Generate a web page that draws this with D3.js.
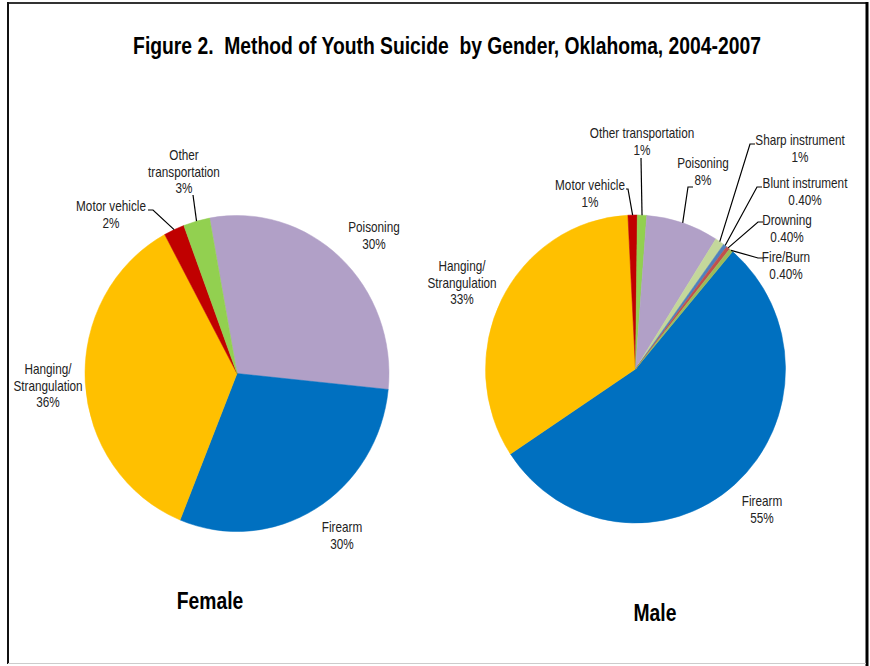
<!DOCTYPE html>
<html><head><meta charset="utf-8">
<script src="https://cdn.jsdelivr.net/npm/d3@7"></script>
<style>
body{margin:0;background:#fff;}
svg{display:block;}
</style></head>
<body>
<svg id="c" width="870" height="666"></svg>
<script>
// ---- data ----
const femaleCategories = ["Poisoning","Firearm","Hanging/Strangulation","Motor vehicle","Other transportation"];
const femaleValues     = [29.5, 29.5, 36, 2.2, 2.8];
const femaleLabels     = ["30%","30%","36%","2%","3%"];

const maleCategories = ["Firearm","Hanging/Strangulation","Motor vehicle","Other transportation","Poisoning","Sharp instrument","Blunt instrument","Drowning","Fire/Burn"];
const maleValues     = [54.5, 33.5, 1, 1, 7.8, 1, 0.4, 0.4, 0.4];
const maleLabels     = ["55%","33%","1%","1%","8%","1%","0.40%","0.40%","0.40%"];

const colorMap = {
  "Poisoning":"#B1A0C7","Firearm":"#0070C0","Hanging/Strangulation":"#FFC000",
  "Motor vehicle":"#C00000","Other transportation":"#92D050","Sharp instrument":"#C4D79B",
  "Blunt instrument":"#4F81BD","Drowning":"#C0504D","Fire/Burn":"#9BBB59"
};

// ---- layout ----
const FONT = "'Liberation Sans Narrow','Arial Narrow','Liberation Sans',Arial,sans-serif";
const SX = 0.84; // emulate narrow font
const svg = d3.select("#c");

function narrowText(parent, x, y, txt, size, bold, fill){
  return parent.append("text")
    .attr("transform",`translate(${x},${y}) scale(${SX},1)`)
    .attr("text-anchor","middle").attr("font-family",FONT)
    .attr("font-size",size).attr("font-weight",bold?"bold":"normal")
    .attr("fill",fill||"#000").attr("xml:space","preserve").text(txt);
}

// frame
svg.append("line").attr("x1",8).attr("y1",3).attr("x2",868).attr("y2",3).attr("stroke","#333").attr("stroke-width",2);
svg.append("line").attr("x1",8).attr("y1",2).attr("x2",8).attr("y2",664).attr("stroke","#111").attr("stroke-width",2);
svg.append("line").attr("x1",867).attr("y1",2).attr("x2",867).attr("y2",666).attr("stroke","#000").attr("stroke-width",3);
svg.append("line").attr("x1",8).attr("y1",663.5).attr("x2",866).attr("y2",663.5).attr("stroke","#ccc").attr("stroke-width",1);

narrowText(svg, 447, 54, "Figure 2.  Method of Youth Suicide  by Gender, Oklahoma, 2004-2007", 23, true);

// label layout: text lines, center x, first baseline, optional leader [tick start x, y, tick end x]
const femaleLayout = {
  "Poisoning":{lines:["Poisoning"],x:374,y:232},
  "Firearm":{lines:["Firearm"],x:342,y:532},
  "Hanging/Strangulation":{lines:["Hanging/","Strangulation"],x:48,y:374},
  "Motor vehicle":{lines:["Motor vehicle"],x:111,y:211,leader:[148,210,153]},
  "Other transportation":{lines:["Other","transportation"],x:184,y:160,leader:[193,195,193]}
};
const maleLayout = {
  "Firearm":{lines:["Firearm"],x:762,y:506},
  "Hanging/Strangulation":{lines:["Hanging/","Strangulation"],x:462,y:271},
  "Motor vehicle":{lines:["Motor vehicle"],x:590,y:190,leader:[626,189,628]},
  "Other transportation":{lines:["Other transportation"],x:642,y:138,leader:[641,158,641]},
  "Poisoning":{lines:["Poisoning"],x:703,y:168,leader:[693,187,688]},
  "Sharp instrument":{lines:["Sharp instrument"],x:800,y:145,leader:[755,144,750]},
  "Blunt instrument":{lines:["Blunt instrument"],x:805,y:188,leader:[762,187,757]},
  "Drowning":{lines:["Drowning"],x:787,y:225,leader:[763,222,758]},
  "Fire/Burn":{lines:["Fire/Burn"],x:786,y:262,leader:[763,258,758]}
};

function drawPie(cats, vals, labs, cx, cy, rx, ry, startDeg, layout, title, tx, ty){
  const g = svg.append("g");
  const data = cats.map((c,i)=>({cat:c, v:vals[i], lab:labs[i]}));
  const pie = d3.pie().sort(null).value(d=>d.v)
      .startAngle(startDeg*Math.PI/180).endAngle(startDeg*Math.PI/180+2*Math.PI);
  const arcs = pie(data);
  const arc = d3.arc().innerRadius(0).outerRadius(rx);
  g.selectAll("path.s").data(arcs).enter().append("path")
    .attr("transform",`translate(${cx},${cy}) scale(1,${ry/rx})`)
    .attr("d",arc).attr("fill",d=>colorMap[d.data.cat])
    .attr("stroke",d=>colorMap[d.data.cat]).attr("stroke-width",0.5);
  arcs.forEach(a=>{
    const L = layout[a.data.cat];
    const lines = L.lines.concat([a.data.lab]);
    lines.forEach((t,k)=>{
      narrowText(g, L.x, L.y+k*16.7, t, 14, false, "#222");
    });
    if(L.leader){
      const mid = (a.startAngle+a.endAngle)/2;
      const ex = cx + rx*Math.sin(mid), ey = cy - ry*Math.cos(mid);
      const [sx,sy,tx2] = L.leader;
      g.append("path").attr("d",`M${sx},${sy}L${tx2},${sy}L${ex},${ey}`)
        .attr("fill","none").attr("stroke","#000").attr("stroke-width",1.2);
    }
  });
  narrowText(svg, tx, ty, title, 23, true);
}

drawPie(femaleCategories, femaleValues, femaleLabels, 237, 373.5, 152, 158, -10.4, femaleLayout, "Female", 210, 609);
drawPie(maleCategories, maleValues, maleLabels, 635.5, 369, 150, 154, 40.3, maleLayout, "Male", 655, 621);
</script>
</body></html>
